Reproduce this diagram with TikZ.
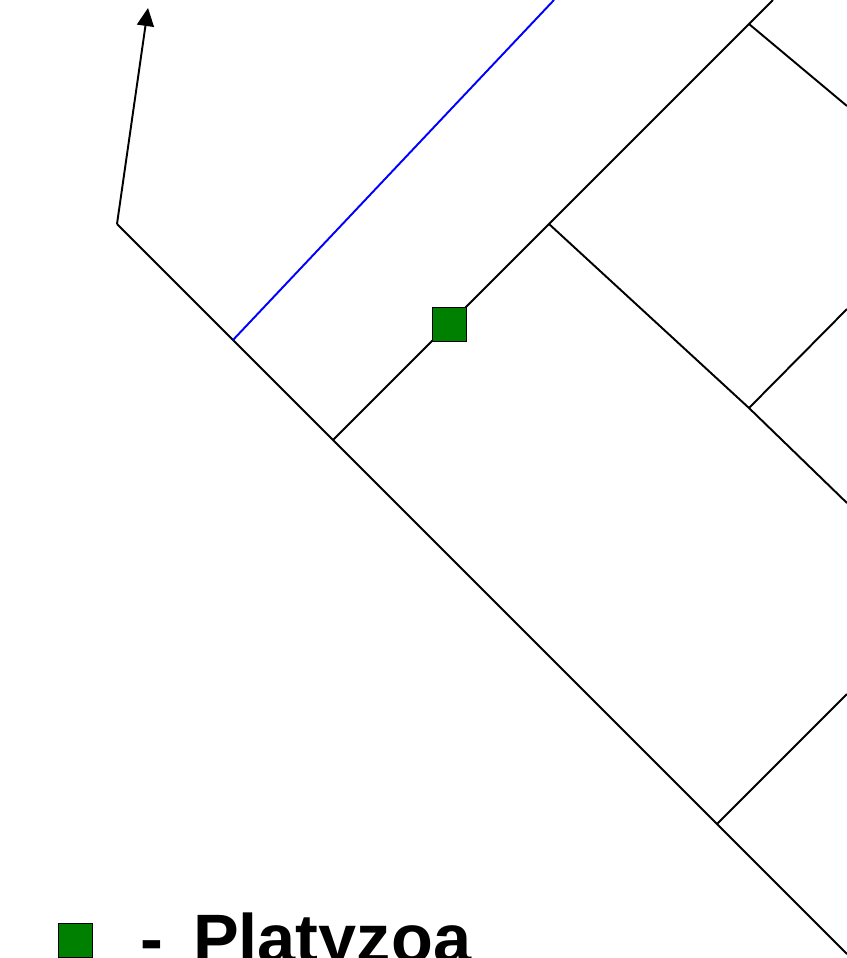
\documentclass[tikz,border=0pt]{standalone}
\usepackage{fontspec}
\setmainfont{Liberation Sans}
\usetikzlibrary{arrows.meta}
\tikzset{
    branch/.style={draw=black, line width=1.1pt},
    apo/.style={draw=blue, line width=1.1pt},
    marker/.style={draw=black, line width=1pt, fill=green!50!black, minimum size=0.68cm, inner sep=0pt},
}
\begin{document}
\begin{tikzpicture}[x=0.02cm, y=-0.02cm]
        \useasboundingbox (0, 0) rectangle (847, 958);
        % nodes of the tree
        \coordinate (root) at (117, 224);
        \coordinate (tip) at (148, 8);
        \coordinate (n1) at (233, 340);
        \coordinate (n2) at (333, 440);
        \coordinate (n3) at (549, 224);
        \coordinate (n4) at (749, 24);
        \coordinate (n5) at (749, 408);
        \coordinate (n6) at (717, 824);
        % free ends at the border
        \coordinate (e1) at (554, 0);
        \coordinate (e2) at (773, 0);
        \coordinate (e3) at (847, 106);
        \coordinate (e4) at (847, 503);
        \coordinate (e5) at (847, 309);
        \coordinate (e6) at (847, 694);
        \coordinate (e7) at (847, 954);
        \draw [branch, -{Triangle[length=0.36cm, width=0.34cm]}] (root) -- (tip);
        \draw [branch] (root) -- (n1) -- (n2) -- (n6) -- (e7);
        \draw [apo] (n1) -- (e1);
        \draw [branch] (n2) -- (n3) -- (n4) -- (e2);
        \draw [branch] (n4) -- (e3);
        \draw [branch] (n3) -- (n5) -- (e4);
        \draw [branch] (n5) -- (e5);
        \draw [branch] (n6) -- (e6);
        \node [marker] (plat) at (449.5, 324.5) {};
        % legend
        \node [marker] (key) at (75.5, 940.5) {};
        \node [anchor=base west, inner sep=0pt, font=\bfseries\fontsize{39}{40}\selectfont] (keytext) at (140, 962) {-\hspace{0.6cm}Platyzoa};
    \end{tikzpicture}
\end{document}
